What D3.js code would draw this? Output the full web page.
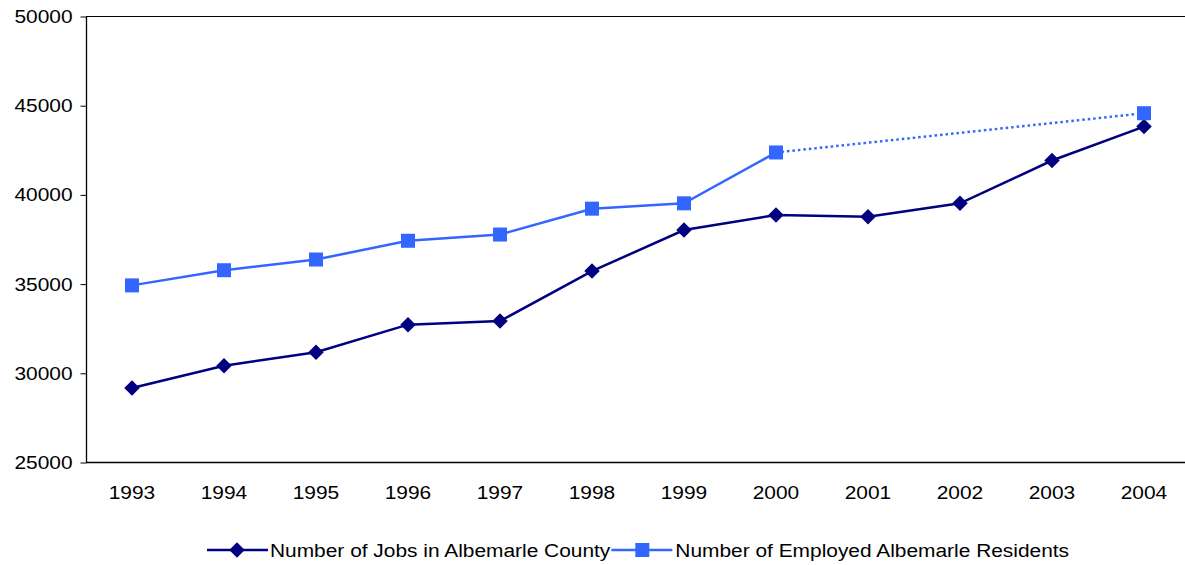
<!DOCTYPE html>
<html>
<head>
<meta charset="utf-8">
<script src="https://cdn.jsdelivr.net/npm/d3@7"></script>
<style>
  body { margin: 0; background: #fff; }
  svg text { font-family: "Liberation Sans", Arial, sans-serif; fill: #000; }
</style>
</head>
<body>
<div id="chart"></div>
<script>
// data
const years = ["1993", "1994", "1995", "1996", "1997", "1998", "1999", "2000", "2001", "2002", "2003", "2004"];
const jobs = [29150, 30400, 31150, 32700, 32900, 35700, 38000, 38850, 38750, 39500, 41900, 43800];
const residents = [34900, 35750, 36350, 37400, 37750, 39200, 39500, 42350, null, null, null, 44550];
const yTicks = [25000, 30000, 35000, 40000, 45000, 50000];

const W = 1185, H = 565;
const margin = { top: 16, right: -5, bottom: 103, left: 86 };
const stretch = 1.1; // reference text is a bit wider than the font

const svg = d3.select("#chart").append("svg")
    .attr("width", W)
    .attr("height", H);

const x = d3.scaleBand()
    .domain(years)
    .range([margin.left, W - margin.right]);

const y = d3.scaleLinear()
    .domain([25000, 50000])
    .range([H - margin.bottom, margin.top]);

const cx = d => x(d) + x.bandwidth() / 2;

// top border of plot area
svg.append("line")
    .attr("x1", margin.left).attr("x2", W)
    .attr("y1", y(50000) + 0.5).attr("y2", y(50000) + 0.5)
    .attr("stroke", "#000").attr("stroke-width", 1);

// Y axis
const yAxis = svg.append("g")
    .attr("transform", `translate(${margin.left + 0.5},0.5)`)
    .call(d3.axisLeft(y).tickValues(yTicks).tickSize(6).tickPadding(8).tickFormat(d3.format("d")));
yAxis.select(".domain").attr("d", `M0,${y(50000)}V${y(25000)}`).attr("stroke-width", 1.3);
yAxis.selectAll("text")
    .attr("font-size", "19px")
    .attr("font-family", "Liberation Sans, Arial, sans-serif")
    .attr("x", -14 / stretch)
    .attr("transform", `scale(${stretch},1)`);

// X axis
const xAxis = svg.append("g")
    .attr("transform", `translate(0,${y(25000) + 0.5})`)
    .call(d3.axisBottom(x).tickSize(0).tickPadding(23));
xAxis.select(".domain").attr("d", `M${margin.left},0H${W}`).attr("stroke-width", 1.3);
xAxis.selectAll("text")
    .attr("font-size", "19px")
    .attr("font-family", "Liberation Sans, Arial, sans-serif")
    .attr("transform", `scale(${stretch},1)`);

const jobsColor = "#000080";
const resColor = "#3366FF";

const line = d3.line()
    .defined(d => d.v != null)
    .x(d => cx(d.year))
    .y(d => y(d.v));

const jobsPts = years.map((yr, i) => ({ year: yr, v: jobs[i] }));
const resPts = years.map((yr, i) => ({ year: yr, v: residents[i] }));

svg.append("path")
    .datum(jobsPts)
    .attr("d", line)
    .attr("fill", "none")
    .attr("stroke", jobsColor)
    .attr("stroke-width", 2.5);

svg.append("path")
    .datum(resPts)
    .attr("d", line)
    .attr("fill", "none")
    .attr("stroke", resColor)
    .attr("stroke-width", 2.5);

// dotted bridge over missing years
const known = resPts.filter(d => d.v != null);
const lastSolid = known[known.length - 2], lastPt = known[known.length - 1];
svg.append("line")
    .attr("x1", cx(lastSolid.year)).attr("y1", y(lastSolid.v))
    .attr("x2", cx(lastPt.year)).attr("y2", y(lastPt.v))
    .attr("stroke", resColor)
    .attr("stroke-width", 2.5)
    .attr("stroke-dasharray", "2.5,3");

const diamond = d3.symbol().type(d3.symbolSquare).size(120);

svg.selectAll(".jobs-pt")
    .data(jobsPts)
    .enter()
    .append("path")
    .attr("class", "jobs-pt")
    .attr("d", diamond)
    .attr("transform", d => `translate(${cx(d.year)},${y(d.v)}) rotate(45)`)
    .attr("fill", jobsColor);

svg.selectAll(".res-pt")
    .data(known)
    .enter()
    .append("rect")
    .attr("class", "res-pt")
    .attr("x", d => cx(d.year) - 7)
    .attr("y", d => y(d.v) - 7)
    .attr("width", 14)
    .attr("height", 14)
    .attr("fill", resColor);

// Legend
const legend = svg.append("g").attr("transform", "translate(207,550)");
const items = [
    { label: "Number of Jobs in Albemarle County", color: jobsColor, shape: "diamond" },
    { label: "Number of Employed Albemarle Residents", color: resColor, shape: "square" }
];
let lx = 0;
items.forEach((it, i) => {
    const g = legend.append("g").attr("transform", `translate(${lx},0)`);
    g.append("line").attr("x1", 0).attr("x2", 61).attr("y1", 0).attr("y2", 0)
        .attr("stroke", it.color).attr("stroke-width", 2.5);
    if (it.shape === "diamond") {
        g.append("path").attr("d", diamond).attr("transform", "translate(30,0) rotate(45)").attr("fill", it.color);
    } else {
        g.append("rect").attr("x", 24).attr("y", -7).attr("width", 14).attr("height", 14).attr("fill", it.color);
    }
    const t = g.append("text")
        .attr("transform", `translate(${i === 0 ? 63 : 64},0) scale(${stretch},1)`)
        .attr("dy", "0.35em")
        .attr("font-size", "19px")
        .text(it.label);
    lx += 63 + t.node().getComputedTextLength() * stretch + 1;
});
</script>
</body>
</html>
